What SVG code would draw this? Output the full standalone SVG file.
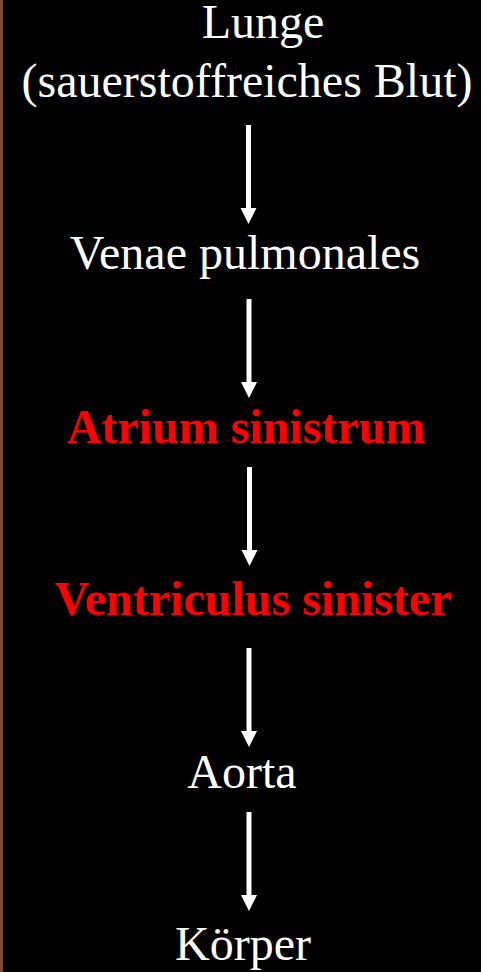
<svg xmlns="http://www.w3.org/2000/svg" width="481" height="972" viewBox="0 0 481 972">
  <style>
    .t { font-family: "Liberation Serif", "Times New Roman", serif; font-size: 48px; fill: #ffffff; text-anchor: middle; }
    .r { fill: #ff0000; font-weight: bold; }
    .arrow { fill: #ffffff; }
  </style>
  <defs>
    <path id="arr" d="M -2.5 0 L 2.5 0 L 2.5 83 L 8 83 L 0 99 L -8 83 L -2.5 83 Z"/>
  </defs>
  <rect x="0" y="0" width="481" height="972" fill="#000000"/>
  <rect x="0" y="0" width="3" height="972" fill="#7a4b36"/>
  <g id="node-lunge">
    <text class="t" x="263" y="38">Lunge</text>
    <text class="t" x="247" y="97">(sauerstoffreiches Blut)</text>
  </g>
  <g id="node-venae">
    <text class="t" x="245" y="269">Venae pulmonales</text>
  </g>
  <g id="node-atrium">
    <text class="t r" x="246" y="443">Atrium sinistrum</text>
  </g>
  <g id="node-ventriculus">
    <text class="t r" x="253" y="615">Ventriculus sinister</text>
  </g>
  <g id="node-aorta">
    <text class="t" x="242" y="788">Aorta</text>
  </g>
  <g id="node-koerper">
    <text class="t" x="243" y="960">Körper</text>
  </g>
  <g id="connectors" class="arrow">
    <use href="#arr" x="248.5" y="125"/>
    <use href="#arr" x="249" y="299"/>
    <use href="#arr" x="249.5" y="467"/>
    <use href="#arr" x="249" y="648"/>
    <use href="#arr" x="249" y="812"/>
  </g>
</svg>
